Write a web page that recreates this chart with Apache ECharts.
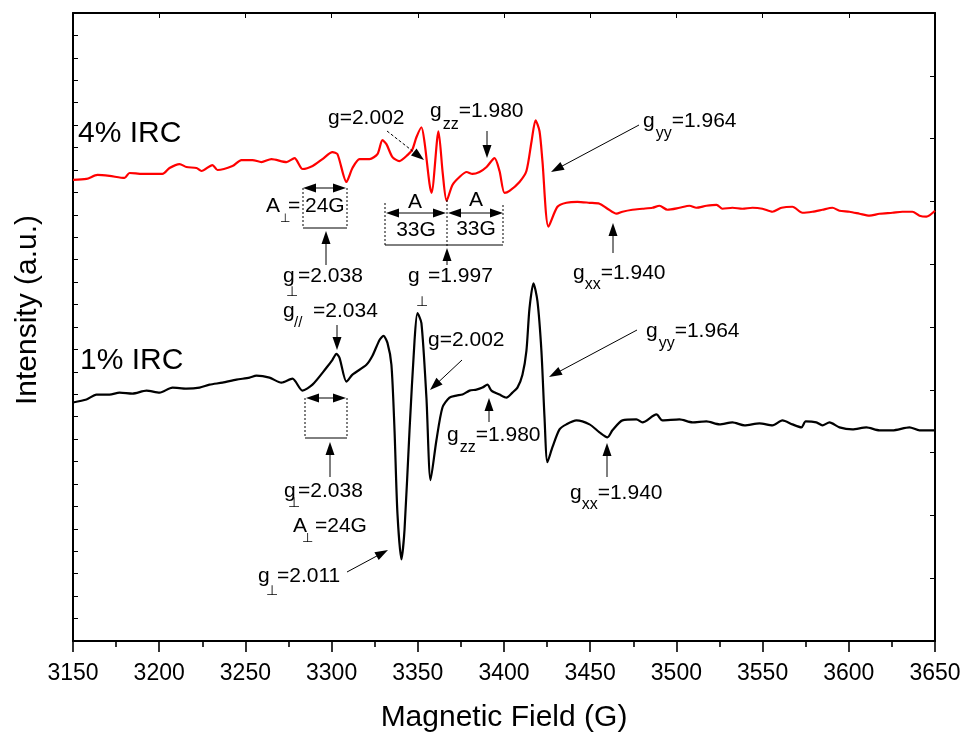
<!DOCTYPE html>
<html><head><meta charset="utf-8">
<script src="https://cdn.jsdelivr.net/npm/echarts@6/dist/echarts.min.js"></script>
<style>html,body{margin:0;padding:0;background:#fff}#c{width:964px;height:738px}</style>
</head><body><div id="c"></div>
<script>
// ---------------- data (Magnetic field in G, intensity in a.u.) ----------------
const FIELD_MIN = 3150, FIELD_MAX = 3650, FIELD_STEP = 50;
const INT_MIN = 0, INT_MAX = 632;

const irc4Field = [3150,3157.8,3164.2,3171.2,3179.9,3182.8,3190.3,3201.9,3206.0,3211.8,3215.8,3221.6,3224.5,3230.9,3233.8,3242.5,3247.7,3254.1,3259.3,3265.1,3273.8,3278.5,3283.2,3289.0,3294.7,3300.5,3303.4,3308.6,3312.1,3316.2,3322.0,3326.6,3329.5,3331.8,3335.3,3339.3,3344.0,3346.9,3349.2,3352.1,3353.9,3356.8,3358.0,3362.0,3364.5,3366.7,3370.1,3374.2,3378.3,3381.7,3385.8,3389.9,3394.5,3397.4,3400.3,3403.2,3409.0,3413.0,3416.0,3418.3,3420.6,3422.3,3425.8,3431.0,3436.2,3442.6,3449.6,3455.4,3460.0,3465.3,3468.7,3474.5,3480.3,3486.1,3490.2,3494.8,3501.8,3507.6,3511.6,3517.4,3523.3,3526.7,3532.5,3538.3,3544.1,3549.9,3555.7,3561.0,3567.3,3573.1,3578.9,3584.7,3590.5,3594.6,3600.4,3606.2,3612.0,3617.8,3625.3,3631.1,3636.9,3641.0,3645.0,3650];
const irc4Intensity = [464,465,469,468,466,471,470,470,476,480,477,476,473,479,474,478,484,484,482,485,482,486,475,478,485,492,490,462,476,485,485,490,504,500,487,483,489,495,507,517,502,460,451,513,470,443,459,467,472,470,472,477,486,473,451,453,462,473,503,524,513,483,417,437,441,442,441,440,435,430,432,434,435,436,438,434,436,438,436,438,439,435,436,435,436,435,432,436,437,431,432,434,436,433,432,430,428,430,431,432,432,428,427,433];

const irc1Field = [3150,3157.8,3163.6,3171.2,3177.0,3184.5,3192.6,3200.2,3207.7,3215.8,3223.4,3229.2,3236.7,3244.8,3252.4,3256.4,3264.0,3270.9,3277.3,3283.1,3288.9,3297.0,3300.5,3302.8,3304.6,3308.6,3312.1,3320.2,3323.7,3327.8,3330.1,3332.4,3334.7,3336.5,3338.2,3340.5,3342.3,3345.2,3348.1,3349.8,3352.1,3355.0,3357.4,3360.8,3364.3,3368.4,3372.4,3375.9,3380.0,3384.0,3387.5,3390.4,3392.7,3397.4,3401.4,3404.9,3407.8,3410.7,3413.0,3414.8,3417.1,3419.4,3421.7,3423.5,3425.2,3428.1,3432.2,3436.2,3442.0,3449.6,3455.4,3460.0,3462.9,3468.7,3476.8,3480.3,3488.4,3491.9,3501.8,3509.3,3517.4,3525.0,3532.5,3539.5,3548.2,3555.7,3561.5,3567.3,3572.5,3575.0,3581.2,3584.7,3588.8,3594.6,3602.1,3610.2,3617.8,3625.3,3635.2,3641.0,3650];
const irc1Intensity = [240,243,248,248,250,249,252,250,255,254,255,258,260,263,265,267,265,260,264,252,258,275,283,289,285,261,268,278,287,303,307,300,278,212,128,82,112,212,302,330,320,245,162,202,235,245,247,248,252,253,255,258,252,248,245,250,255,268,292,335,360,342,292,225,180,195,213,218,222,218,210,205,212,222,223,220,228,222,223,220,221,218,220,217,219,217,222,218,215,221,220,217,220,215,213,215,212,212,215,212,212];

const seriesNames = ['4% IRC', '1% IRC'];
const seriesColors = ['#ff0000', '#000000'];

// ---------------- helpers ----------------
const FONT = "'Liberation Sans', Arial, Helvetica, sans-serif";
const mctx = document.createElement('canvas').getContext('2d');
function tw(t, fs) { mctx.font = fs + 'px ' + FONT; return mctx.measureText(t).width; }
function txt(x, base, t, fs, align) {
  return { type: 'text', x: x, y: base - 0.31 * fs, z: 100,
    style: { text: t, fontSize: fs, fontFamily: FONT, fill: '#000',
      align: align || 'left', textAlign: align || 'left', verticalAlign: 'middle', textVerticalAlign: 'middle' } };
}
// parts: [text, fontSize, dy, dxBefore]
function lab(x, base, parts) {
  const els = []; let cx = x;
  parts.forEach(p => {
    const t = p[0], fs = p[1], dy = p[2] || 0, dx = p[3] || 0;
    cx += dx;
    els.push(txt(cx, base + dy, t, fs));
    cx += tw(t, fs);
  });
  return els;
}
function head(px, py, c, s, hl, hw) {
  return { type: 'polygon', z: 100, shape: { points: [[px, py],
    [px - hl * c + hw * s, py - hl * s - hw * c],
    [px - hl * c - hw * s, py - hl * s + hw * c]] }, style: { fill: '#000' } };
}
function arrow(x1, y1, x2, y2, o) {
  o = o || {};
  const hl = o.hl || 13, hw = o.hw || 4.5;
  const a = Math.atan2(y2 - y1, x2 - x1), c = Math.cos(a), s = Math.sin(a);
  const els = [];
  els.push({ type: 'line', z: 99, shape: {
      x1: o.both ? x1 + hl * c * 0.8 : x1, y1: o.both ? y1 + hl * s * 0.8 : y1,
      x2: x2 - hl * c * 0.8, y2: y2 - hl * s * 0.8 },
    style: { stroke: '#000', lineWidth: 1, lineDash: o.dash ? [3, 2] : null } });
  els.push(head(x2, y2, c, s, hl, hw));
  if (o.both) els.push(head(x1, y1, -c, -s, hl, hw));
  return els;
}
function seg(x1, y1, x2, y2, dash) {
  return { type: 'line', z: 99, shape: { x1, y1, x2, y2 },
    style: { stroke: '#000', lineWidth: 1, lineDash: dash ? [2, 2] : null } };
}

// ---------------- annotations ----------------
let g = [];
// --- 4% IRC (red) ---
g.push(txt(78, 143, '4% IRC', 30));
g = g.concat(lab(328, 125, [['g=2.002', 21]]));
g = g.concat(arrow(387, 131, 424, 160, { dash: true }));
g = g.concat(lab(430, 118, [['g', 21], ['zz', 16, 12, 1], ['=1.980', 21]]));
g = g.concat(arrow(487, 131, 487, 158));
g = g.concat(lab(643, 128, [['g', 21], ['yy', 16, 11, 1], ['=1.964', 21]]));
g = g.concat(arrow(639, 125, 551, 172));
// A_perp = 24G bracket
g.push(txt(266, 213, 'A', 21));
g.push(txt(280, 222, '\u22A5', 12));
g.push(txt(288, 213, '=', 21));
g.push(txt(305, 213, '24G', 21));
g.push(seg(303, 188, 303, 228, true));
g.push(seg(347, 188, 347, 228, true));
g.push(seg(303, 228, 347, 228, false));
g = g.concat(arrow(303, 188, 346, 188, { both: true }));
g = g.concat(arrow(326, 265, 326, 231));
g.push(txt(283, 283, 'g', 21));
g.push(txt(286, 296, '\u22A5', 14));
g.push(txt(298, 283, '=2.038', 21));
// A 33G brackets
g.push(seg(385, 203, 385, 245, true));
g.push(seg(447, 200, 447, 248, true));
g.push(seg(503, 205, 503, 245, true));
g.push(seg(385, 245, 503, 245, false));
g = g.concat(arrow(386, 213, 446, 213, { both: true }));
g = g.concat(arrow(448, 213, 503, 213, { both: true }));
g.push(txt(415, 209, 'A', 21, 'center'));
g.push(txt(476, 207, 'A', 21, 'center'));
g.push(txt(416, 237, '33G', 21, 'center'));
g.push(txt(476, 236, '33G', 21, 'center'));
g.push(txt(408, 283, 'g', 21));
g.push(txt(416, 306, '\u22A5', 14));
g.push(txt(428, 283, '=1.997', 21));
g = g.concat(arrow(447, 265, 447, 248));
g = g.concat(lab(573, 280, [['g', 21], ['xx', 16, 10, 0], ['=1.940', 21]]));
g = g.concat(arrow(613, 253, 613, 223));

// --- 1% IRC (black) ---
g.push(txt(80, 370, '1% IRC', 30));
g.push(txt(283, 318, 'g', 21));
g.push(txt(294, 328, '//', 15));
g.push(txt(313, 318, '=2.034', 21));
g = g.concat(arrow(337, 325, 337, 350));
g.push(seg(305, 398, 305, 438, true));
g.push(seg(347, 398, 347, 438, true));
g.push(seg(305, 438, 347, 438, false));
g = g.concat(arrow(306, 398, 346, 398, { both: true }));
g = g.concat(arrow(330, 477, 330, 442));
g.push(txt(284, 498, 'g', 21));
g.push(txt(288, 507, '\u22A5', 14));
g.push(txt(298, 498, '=2.038', 21));
g.push(txt(293, 533, 'A', 21));
g.push(txt(302, 542, '\u22A5', 13));
g.push(txt(315, 533, '=24G', 21));
g.push(txt(258, 583, 'g', 21));
g.push(txt(266, 595, '\u22A5', 14));
g.push(txt(277, 583, '=2.011', 21));
g = g.concat(arrow(347, 572, 388, 550));
g = g.concat(lab(428, 347, [['g=2.002', 21]]));
g = g.concat(arrow(462, 360, 430, 390));
g = g.concat(lab(447, 442, [['g', 21], ['zz', 16, 11, 1], ['=1.980', 21]]));
g = g.concat(arrow(489, 422, 489, 398));
g = g.concat(lab(646, 338, [['g', 21], ['yy', 16, 11, 1], ['=1.964', 21]]));
g = g.concat(arrow(637, 330, 549, 377));
g = g.concat(lab(570, 500, [['g', 21], ['xx', 16, 10, 0], ['=1.940', 21]]));
g = g.concat(arrow(607, 477, 607, 443));

// y-axis title
g.push({ type: 'text', x: 28, y: 310, rotation: Math.PI / 2, z: 100,
  style: { text: 'Intensity (a.u.)', fontSize: 30, fontFamily: FONT, fill: '#000',
    align: 'center', textAlign: 'center', verticalAlign: 'middle', textVerticalAlign: 'middle' } });

// ---------------- chart ----------------
const chart = echarts.init(document.getElementById('c'), null, { renderer: 'canvas' });
const axisLine = { show: true, onZero: false, lineStyle: { color: '#000', width: 2 } };
const option = {
  animation: false,
  backgroundColor: '#fff',
  grid: { left: 73, right: 29, top: 13, bottom: 93, containLabel: false },
  xAxis: [
    { type: 'value', position: 'bottom', min: FIELD_MIN, max: FIELD_MAX, interval: FIELD_STEP,
      axisLine: axisLine,
      axisTick: { show: true, inside: false, length: 11, lineStyle: { color: '#000', width: 1.6 } },
      minorTick: { show: true, splitNumber: 2, length: 6, lineStyle: { color: '#000', width: 1.6 } },
      axisLabel: { show: true, color: '#000', fontSize: 23, fontFamily: FONT, margin: 21,
        formatter: v => String(v) },
      splitLine: { show: false }, minorSplitLine: { show: false },
      name: 'Magnetic Field (G)', nameLocation: 'middle', nameGap: 62,
      nameTextStyle: { color: '#000', fontSize: 30, fontFamily: FONT } },
    { type: 'value', position: 'top', min: FIELD_MIN, max: FIELD_MAX, interval: FIELD_STEP,
      axisLine: axisLine,
      axisTick: { show: true, inside: true, length: 5, lineStyle: { color: '#000', width: 1 } },
      axisLabel: { show: false }, splitLine: { show: false } }
  ],
  yAxis: [
    { type: 'value', position: 'left', min: INT_MIN, max: INT_MAX, interval: (INT_MAX - INT_MIN) / 28,
      axisLine: axisLine,
      axisTick: { show: true, inside: true, length: 5, lineStyle: { color: '#000', width: 1 } },
      axisLabel: { show: false }, splitLine: { show: false } },
    { type: 'value', position: 'right', min: INT_MIN, max: INT_MAX, interval: (INT_MAX - INT_MIN) / 10,
      axisLine: axisLine,
      axisTick: { show: true, inside: true, length: 5, lineStyle: { color: '#000', width: 1 } },
      axisLabel: { show: false }, splitLine: { show: false } }
  ],
  series: [
    { name: seriesNames[0], type: 'line', xAxisIndex: 0, yAxisIndex: 0, showSymbol: false, smooth: 0.25,
      lineStyle: { color: seriesColors[0], width: 2.2 }, itemStyle: { color: seriesColors[0] },
      data: irc4Field.map((x, i) => [x, irc4Intensity[i]]) },
    { name: seriesNames[1], type: 'line', xAxisIndex: 0, yAxisIndex: 0, showSymbol: false, smooth: 0.25,
      lineStyle: { color: seriesColors[1], width: 2.2 }, itemStyle: { color: seriesColors[1] },
      data: irc1Field.map((x, i) => [x, irc1Intensity[i]]) }
  ],
  graphic: g
};
chart.setOption(option);
</script></body></html>
